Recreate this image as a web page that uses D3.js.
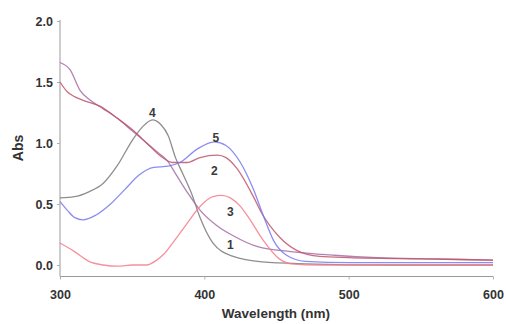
<!DOCTYPE html>
<html>
<head>
<meta charset="utf-8">
<script src="https://cdn.jsdelivr.net/npm/d3@7"></script>
<style>
  body { margin: 0; background: #fff; }
  text { font-family: Arial, "Liberation Sans", sans-serif; }
</style>
</head>
<body>
<svg id="chart" width="506" height="324"></svg>
<script>
// Spectra: [wavelength nm, absorbance]
const curve1 = [[300,1.66],[307,1.6],[314,1.43],[321,1.35],[330,1.28],[340,1.2],[350,1.1],[360,1.0],[368,0.92],[374,0.86],[381,0.73],[388,0.6],[397,0.45],[409,0.32],[420,0.24],[437,0.15],[460,0.11],[490,0.08],[520,0.06],[560,0.05],[600,0.04]];
const curve2 = [[300,1.5],[305,1.42],[310,1.38],[316,1.35],[328,1.3],[340,1.2],[351,1.1],[360,1.0],[370,0.89],[378,0.84],[388,0.84],[397,0.88],[409,0.9],[415,0.88],[422,0.8],[434,0.56],[440,0.42],[452,0.23],[464,0.12],[480,0.07],[500,0.06],[550,0.05],[600,0.04]];
const curve3 = [[300,0.18],[310,0.11],[320,0.03],[330,0.0],[340,-0.01],[350,0.0],[360,0.0],[367,0.04],[372,0.09],[378,0.18],[388,0.34],[397,0.48],[406,0.56],[412,0.57],[418,0.55],[425,0.48],[430,0.4],[441,0.2],[452,0.05],[460,0.01],[480,0.0],[540,0.0],[600,0.0]];
const curve4 = [[300,0.55],[310,0.56],[320,0.6],[330,0.67],[340,0.82],[350,1.02],[357,1.13],[364,1.19],[370,1.15],[375,1.06],[380,0.88],[385,0.75],[391,0.59],[397,0.39],[406,0.18],[420,0.07],[440,0.025],[470,0.01],[530,0.0],[600,0.0]];
const curve5 = [[300,0.52],[305,0.45],[310,0.39],[316,0.37],[325,0.41],[335,0.5],[345,0.62],[355,0.74],[365,0.8],[375,0.81],[383,0.84],[395,0.95],[407,1.01],[415,0.98],[425,0.84],[434,0.62],[441,0.4],[448,0.2],[457,0.08],[470,0.03],[500,0.02],[600,0.02]];

const curveNames = ["1", "2", "3", "4", "5"];
const curveColors = ["#a46ca8", "#c05468", "#f47c8c", "#7a7a7a", "#7878f0"];
// label anchor points [wavelength, absorbance]
const labelPos = [[418,0.13],[407,0.74],[418,0.40],[364,1.21],[408,1.01]];

const xTicks = [300, 400, 500, 600];
const yTicks = [0.0, 0.5, 1.0, 1.5, 2.0];

const svg = d3.select("#chart");

const x = d3.scaleLinear().domain([300, 600]).range([60, 493]);
const y = d3.scaleLinear().domain([0, 2]).range([265, 21]);

// axes
svg.append("line")
    .attr("x1", x(300)).attr("x2", x(300))
    .attr("y1", 20).attr("y2", 276.5)
    .attr("stroke", "#9a9a9a").attr("stroke-width", 1);
svg.append("line")
    .attr("x1", x(300)).attr("x2", x(600))
    .attr("y1", 276.5).attr("y2", 276.5)
    .attr("stroke", "#9a9a9a").attr("stroke-width", 1);

const yAxis = svg.append("g")
    .attr("transform", "translate(" + x(300) + ",0)")
    .call(d3.axisLeft(y).tickValues(yTicks).tickFormat(d3.format(".1f")).tickSize(3).tickPadding(4));
yAxis.select(".domain").remove();

const xAxis = svg.append("g")
    .attr("transform", "translate(0,276.5)")
    .call(d3.axisBottom(x).tickValues(xTicks).tickSize(3).tickPadding(11));
xAxis.select(".domain").remove();

svg.selectAll(".tick line").attr("stroke", "#b0b0b0");
svg.selectAll(".tick text")
    .attr("fill", "#333")
    .style("font-size", "12.5px")
    .style("font-weight", "bold");

// titles
svg.append("text")
    .attr("x", 276).attr("y", 318)
    .attr("text-anchor", "middle")
    .attr("fill", "#333")
    .style("font-size", "13.5px")
    .style("font-weight", "bold")
    .text("Wavelength (nm)");

svg.append("text")
    .attr("transform", "translate(23,148) rotate(-90)")
    .attr("text-anchor", "middle")
    .attr("fill", "#333")
    .style("font-size", "14px")
    .style("font-weight", "bold")
    .text("Abs");

// spectra
const line = d3.line()
    .x(d => x(d[0]))
    .y(d => y(d[1]))
    .curve(d3.curveMonotoneX);

const series = [curve1, curve2, curve3, curve4, curve5];
const drawOrder = [3, 0, 1, 2, 4];
drawOrder.forEach(i => {
    svg.append("path")
        .datum(series[i])
        .attr("d", line)
        .attr("fill", "none")
        .attr("stroke", curveColors[i])
        .attr("stroke-width", 1.3)
        .attr("stroke-opacity", 0.85);
});

// curve numbers
svg.selectAll(".clabel")
    .data(curveNames)
    .join("text")
    .attr("class", "clabel")
    .attr("x", (d, i) => x(labelPos[i][0]))
    .attr("y", (d, i) => y(labelPos[i][1]))
    .attr("text-anchor", "middle")
    .attr("fill", "#3a3a3a")
    .style("font-size", "12px")
    .style("font-weight", "bold")
    .text(d => d);
</script>
</body>
</html>
